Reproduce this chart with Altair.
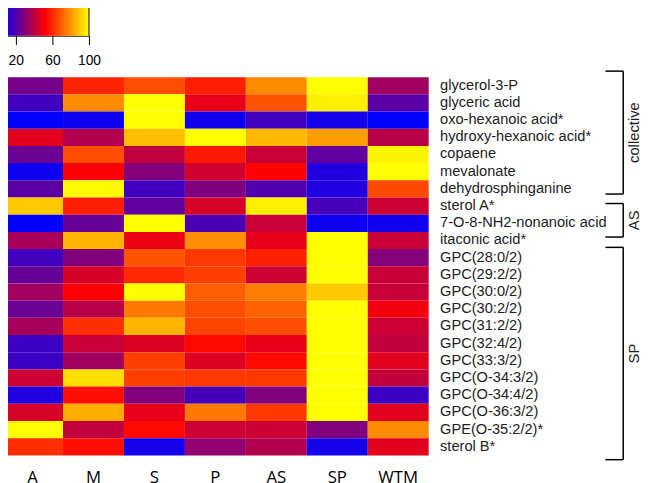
import altair as alt
import pandas as pd

cols = ["A", "M", "S", "P", "AS", "SP", "WTM"]
rows = ["glycerol-3-P", "glyceric acid", "oxo-hexanoic acid*", "hydroxy-hexanoic acid*",
        "copaene", "mevalonate", "dehydrosphinganine", "sterol A*",
        "7-O-8-NH2-nonanoic acid", "itaconic acid*", "GPC(28:0/2)", "GPC(29:2/2)",
        "GPC(30:0/2)", "GPC(30:2/2)", "GPC(31:2/2)", "GPC(32:4/2)", "GPC(33:3/2)",
        "GPC(O-34:3/2)", "GPC(O-34:4/2)", "GPC(O-36:3/2)", "GPE(O-35:2/2)*", "sterol B*"]

A = [27, 17, 5, 47, 25, 7.5, 22, 90, 5, 36, 17, 24, 35, 25, 36, 16, 16, 43, 11, 45, 100, 61]
M = [59, 78, 7.5, 38, 67, 52, 99, 58, 24, 86, 29, 45, 52, 39, 61, 42, 35, 94, 55, 85, 41, 55]
S = [67, 100, 100, 88, 41, 30, 17, 23, 100, 49, 68, 60, 100, 75, 86, 46, 64, 64, 29, 48, 54, 9]
P = [58, 48, 8, 100, 57, 44, 29, 45, 19, 79, 63, 64, 70, 67, 65, 54, 46, 63, 18, 75, 43, 32]
AS_ = [78, 68, 17, 87, 42, 53, 20, 97, 42, 48, 58, 43, 76, 71, 67, 48, 54, 63, 29, 63, 43, 38]
SP = [100, 97, 9, 82, 23, 11, 11, 18, 7.5, 100, 100, 100, 90, 100, 100, 100, 100, 100, 100, 100, 29, 9]
WTM = [35, 22, 5, 39, 98, 100, 66, 43, 8, 42, 30, 42, 42, 50, 43, 41, 47, 41, 16, 47, 78, 47]

groups = ["collective", "AS", "SP"]
group_top = [-0.35, 7.35, 9.9]      # in row units
group_bottom = [6.8, 9.3, 22.25]

legend_ticks = [20, 40, 60, 80, 100]
legend_min, legend_max = 5, 100

series = {"A": A, "M": M, "S": S, "P": P, "AS": AS_, "SP": SP, "WTM": WTM}
records = []
for c in cols:
    for r, v in zip(rows, series[c]):
        records.append({"col": c, "row": r, "value": v})
df = pd.DataFrame(records)

bdf = pd.DataFrame({"group": groups, "top": group_top, "bottom": group_bottom})
bdf["mid"] = (bdf["top"] + bdf["bottom"]) / 2

color_scale = alt.Scale(domain=[legend_min, (legend_min + legend_max) / 2, legend_max],
                        range=["#0000ff", "#ff0000", "#ffff00"], interpolate="rgb")

heat = alt.Chart(df).mark_rect().encode(
    x=alt.X("col:N", sort=cols, scale=alt.Scale(paddingInner=0, paddingOuter=0),
            axis=alt.Axis(orient="bottom", labelAngle=0, ticks=False, domain=False,
                          labelFontSize=17, labelFont="Open Sans", labelColor="black",
                          labelPadding=14, title=None)),
    y=alt.Y("row:N", sort=rows, scale=alt.Scale(paddingInner=0, paddingOuter=0),
            axis=alt.Axis(orient="right", ticks=False, domain=False, labelFontSize=14.8,
                          labelFont="Liberation Sans", labelColor="#222222",
                          labelPadding=11, title=None, labelLimit=300)),
    color=alt.Color("value:Q", scale=color_scale, legend=None),
)

yq = alt.Scale(domain=[0, len(rows)], reverse=True, nice=False, zero=False)

bv = alt.Chart(bdf).mark_rule(color="black", strokeWidth=1.5).encode(
    x=alt.value(629),
    y=alt.Y("top:Q", scale=yq, axis=None),
    y2="bottom:Q",
)
bt = alt.Chart(bdf).mark_rule(color="black", strokeWidth=1.5).encode(
    x=alt.value(611), x2=alt.value(629),
    y=alt.Y("top:Q", scale=yq, axis=None),
)
bb = alt.Chart(bdf).mark_rule(color="black", strokeWidth=1.5).encode(
    x=alt.value(611), x2=alt.value(629),
    y=alt.Y("bottom:Q", scale=yq, axis=None),
)
btxt = alt.Chart(bdf).mark_text(angle=270, align="center", baseline="middle",
                                fontSize=15, font="Liberation Sans", color="#222222").encode(
    x=alt.value(640),
    y=alt.Y("mid:Q", scale=yq, axis=None),
    text="group:N",
)

heatmap = alt.layer(heat, bv, bt, bb, btxt).resolve_scale(y="independent").properties(
    width=432, height=383)

ldf = pd.DataFrame({"lo": [legend_min], "hi": [legend_max]})
grad = alt.LinearGradient(gradient="linear", x1=0, x2=1, y1=0, y2=0,
                          stops=[alt.GradientStop(color="#0000ff", offset=0),
                                 alt.GradientStop(color="#ff0000", offset=0.5),
                                 alt.GradientStop(color="#ffff00", offset=1)])
lx = alt.Scale(domain=[legend_min, legend_max], nice=False, zero=False)
lbar = alt.Chart(ldf).mark_rect(color=grad).encode(
    x=alt.X("lo:Q", scale=lx,
            axis=alt.Axis(values=legend_ticks,
                          labelExpr="datum.value % 40 == 20 ? datum.label : ''",
                          tickSize=9, tickColor="black", domainColor="black",
                          labelFontSize=14, labelFont="Liberation Sans", labelColor="black",
                          labelPadding=9, grid=False, title=None, labelFlush=False,
                          labelOverlap=False)),
    x2="hi:Q",
    y=alt.value(0), y2=alt.value(31),
)
lborder = alt.Chart(ldf).mark_rule(color="black").encode(
    x=alt.X("hi:Q", scale=lx), y=alt.value(0), y2=alt.value(31))
legend = alt.layer(lbar, lborder).properties(width=88, height=31)

chart = alt.vconcat(legend, heatmap, spacing=42, bounds="flush").properties(
    padding={"left": -6, "top": -7, "right": 0, "bottom": 0},
    background="white",
).configure_view(stroke=None)

chart.save("out.html", embed_options={"renderer": "svg", "actions": False})
